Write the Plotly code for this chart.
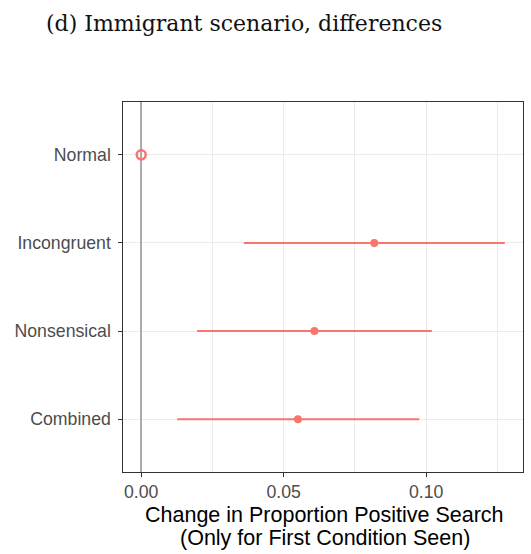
import plotly.graph_objects as go

# Estimated change in the proportion of positive searches, by condition
conditions = ["Normal", "Incongruent", "Nonsensical", "Combined"]
estimate = [0.0, 0.0818, 0.0608, 0.0550]
ci_low = [0.0, 0.0360, 0.0196, 0.0126]
ci_high = [0.0, 0.1276, 0.1020, 0.0976]
x_ticks = [0.0, 0.05, 0.10]
x_tick_labels = ["0.00", "0.05", "0.10"]
x_title_lines = ["Change in Proportion Positive Search", "(Only for First Condition Seen)"]

RED = "#F8766D"

err_plus = [h - e for h, e in zip(ci_high, estimate)]
err_minus = [e - l for e, l in zip(estimate, ci_low)]

fig = go.Figure()

# intervals + point estimates for the treatment conditions
fig.add_trace(go.Scatter(
    x=estimate[1:], y=conditions[1:],
    mode="markers",
    marker=dict(color=RED, size=8),
    error_x=dict(type="data", symmetric=False,
                 array=err_plus[1:], arrayminus=err_minus[1:],
                 color=RED, thickness=2, width=0),
    showlegend=False, hoverinfo="skip",
))

# reference condition drawn as an open circle
fig.add_trace(go.Scatter(
    x=estimate[:1], y=conditions[:1],
    mode="markers",
    marker=dict(color=RED, size=9, symbol="circle-open", line=dict(width=2.5, color=RED)),
    showlegend=False, hoverinfo="skip",
))

annotations = [dict(
    text="(d) Immigrant scenario, differences",
    xref="paper", yref="paper", x=(243.5 - 123) / 400, y=1,
    yshift=79, xanchor="center", yanchor="middle", showarrow=False,
    font=dict(family="DejaVu Serif, serif", size=22, color="#111111"),
)]
# two-line x-axis title with tight line spacing
for i, line in enumerate(x_title_lines):
    annotations.append(dict(
        text=line, xref="paper", yref="paper", x=0.504, y=0,
        yshift=-43 - 23 * i, xanchor="center", yanchor="middle", showarrow=False,
        font=dict(family="Liberation Sans, Arial, sans-serif", size=21.5, color="#000000"),
    ))

fig.update_layout(
    width=531, height=554,
    margin=dict(l=123, r=8, t=102, b=82),
    paper_bgcolor="white", plot_bgcolor="white",
    font=dict(family="Liberation Sans, Arial, sans-serif", size=17.7, color="#4D4D4D"),
    annotations=annotations,
)

fig.update_xaxes(
    range=[-0.0064, 0.134],
    tickvals=x_ticks, ticktext=x_tick_labels,
    showgrid=True, gridcolor="#EBEBEB", gridwidth=1.3,
    minor=dict(dtick=0.025, tick0=0, showgrid=True, gridcolor="#EBEBEB", gridwidth=0.7),
    zeroline=True, zerolinecolor="#ABABAB", zerolinewidth=1.6,
    showline=True, linecolor="#333333", linewidth=1.2, mirror=True,
    ticks="outside", ticklen=3.5, tickcolor="#333333", tickwidth=1.2,
    tickfont=dict(size=17.7, color="#4D4D4D"),
)

fig.update_yaxes(
    type="category", categoryorder="array", categoryarray=conditions,
    range=[3.6, -0.6],
    showgrid=True, gridcolor="#EBEBEB", gridwidth=1.3,
    showline=True, linecolor="#333333", linewidth=1.2, mirror=True,
    ticks="outside", ticklen=3.5, tickcolor="#333333", tickwidth=1.2,
    ticklabelstandoff=4,
    tickfont=dict(size=17.7, color="#4D4D4D"),
)

fig.write_html("out.html")
